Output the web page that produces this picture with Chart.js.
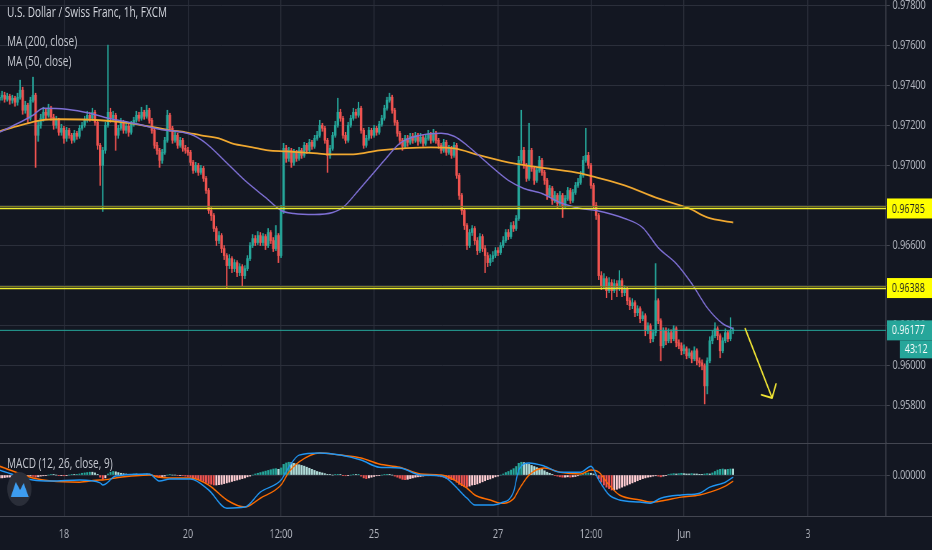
<!DOCTYPE html>
<html>
<head>
<meta charset="utf-8">
<script src="https://cdn.jsdelivr.net/npm/chart.js@4.4.1/dist/chart.umd.min.js"></script>
<style>
  html, body { margin: 0; padding: 0; background: #131722; }
  #wrap { position: relative; width: 932px; height: 550px; overflow: hidden; }
  #chart { display: block; }
  .lg { position: absolute; left: 7px; font: 14px "Open Sans", sans-serif; line-height: 18px; color: #c3c6ce; white-space: nowrap; transform: scaleX(0.717); transform-origin: 0 0; }
</style>
</head>
<body>
<div id="wrap">
  <canvas id="chart" width="1300" height="550" style="width:932px;height:550px"></canvas>
  <div class="lg" style="top:3px;color:#d1d4dc">U.S. Dollar / Swiss Franc, 1h, FXCM</div>
  <div class="lg" style="top:32px">MA (200, close)</div>
  <div class="lg" style="top:52px">MA (50, close)</div>
  <div class="lg" style="top:454px">MACD (12, 26, close, 9)</div>
</div>
<script>
Chart.defaults.font.family = '"Open Sans", sans-serif';
Chart.defaults.font.size = 12.5;
Chart.defaults.color = '#b2b5be';

// x values are hourly bar numbers, bar 0 = first visible candle (weekends skipped)
const timeLabels = ['18', '20', '12:00', '25', '27', '12:00', 'Jun', '3'];
const timeLabelBars = [25, 73, 109, 145, 193, 229, 265, 313];
const priceTicks = [0.958, 0.960, 0.962, 0.964, 0.966, 0.968, 0.970, 0.972, 0.974, 0.976, 0.978];

const opens = [
  0.97325,0.97340,0.97350,0.97330,0.97345,0.97325,0.97335,0.97315,0.97340,0.97375,
  0.97275,0.97300,0.97235,0.97325,0.97350,0.97150,0.97200,0.97235,0.97265,0.97250,
  0.97285,0.97240,0.97200,0.97225,0.97165,0.97185,0.97135,0.97175,0.97150,0.97125,
  0.97160,0.97145,0.97185,0.97200,0.97225,0.97250,0.97235,0.97265,0.97215,0.97100,
  0.97000,0.97075,0.97200,0.97265,0.97235,0.97250,0.97150,0.97185,0.97215,0.97175,
  0.97195,0.97165,0.97205,0.97225,0.97250,0.97235,0.97265,0.97245,0.97275,0.97225,
  0.97175,0.97100,0.97075,0.97025,0.97065,0.97125,0.97250,0.97185,0.97125,0.97150,
  0.97100,0.97125,0.97085,0.97075,0.97065,0.97015,0.96975,0.97000,0.96965,0.96985,
  0.96935,0.96875,0.96775,0.96750,0.96685,0.96625,0.96650,0.96585,0.96550,0.96500,
  0.96535,0.96485,0.96515,0.96465,0.96495,0.96450,0.96485,0.96535,0.96600,0.96635,
  0.96615,0.96650,0.96615,0.96645,0.96600,0.96665,0.96625,0.96585,0.96650,0.96550,
  0.96775,0.97085,0.97035,0.97075,0.97015,0.97065,0.97035,0.97075,0.97050,0.97100,
  0.97075,0.97115,0.97095,0.97135,0.97150,0.97200,0.97185,0.97125,0.97050,0.97085,
  0.97150,0.97200,0.97265,0.97235,0.97150,0.97125,0.97200,0.97235,0.97265,0.97250,
  0.97285,0.97175,0.97100,0.97135,0.97175,0.97150,0.97185,0.97165,0.97205,0.97235,
  0.97285,0.97325,0.97340,0.97275,0.97215,0.97160,0.97125,0.97095,0.97135,0.97115,
  0.97145,0.97125,0.97150,0.97120,0.97140,0.97110,0.97135,0.97155,0.97125,0.97160,
  0.97125,0.97100,0.97075,0.97115,0.97065,0.97085,0.97050,0.97100,0.96950,0.96850,
  0.96775,0.96700,0.96600,0.96665,0.96685,0.96625,0.96575,0.96645,0.96585,0.96550,
  0.96515,0.96535,0.96550,0.96575,0.96565,0.96600,0.96625,0.96665,0.96645,0.96700,
  0.96685,0.96735,0.97025,0.97075,0.97000,0.96935,0.97075,0.96985,0.96925,0.96975,
  0.97025,0.96965,0.96925,0.96850,0.96885,0.96825,0.96850,0.96810,0.96850,0.96800,
  0.96835,0.96875,0.96825,0.96865,0.96900,0.96915,0.96950,0.97025,0.97050,0.97000,
  0.96900,0.96800,0.96750,0.96450,0.96400,0.96435,0.96375,0.96415,0.96375,0.96410,
  0.96385,0.96425,0.96365,0.96385,0.96325,0.96300,0.96315,0.96265,0.96285,0.96235,
  0.96250,0.96175,0.96200,0.96135,0.96165,0.96325,0.96225,0.96100,0.96175,0.96125,
  0.96165,0.96135,0.96185,0.96115,0.96100,0.96075,0.96085,0.96050,0.96065,0.96035,
  0.96075,0.96025,0.96015,0.96000,0.95900,0.96025,0.96125,0.96150,0.96185,0.96150,
  0.96075,0.96125,0.96165,0.96135,0.96175
];
const highs = [
  0.97360,0.97370,0.97365,0.97360,0.97355,0.97350,0.97345,0.97360,0.97425,0.97390,
  0.97320,0.97310,0.97340,0.97440,0.97360,0.97220,0.97255,0.97290,0.97280,0.97305,
  0.97295,0.97255,0.97245,0.97235,0.97205,0.97195,0.97190,0.97185,0.97160,0.97175,
  0.97170,0.97200,0.97215,0.97245,0.97270,0.97265,0.97285,0.97275,0.97225,0.97110,
  0.97090,0.97215,0.97600,0.97285,0.97270,0.97260,0.97200,0.97235,0.97225,0.97210,
  0.97205,0.97220,0.97240,0.97270,0.97265,0.97290,0.97275,0.97300,0.97285,0.97235,
  0.97185,0.97115,0.97085,0.97080,0.97140,0.97275,0.97260,0.97195,0.97165,0.97160,
  0.97140,0.97135,0.97100,0.97090,0.97075,0.97025,0.97015,0.97010,0.97000,0.96995,
  0.96945,0.96885,0.96790,0.96760,0.96695,0.96670,0.96660,0.96600,0.96560,0.96555,
  0.96545,0.96530,0.96525,0.96510,0.96505,0.96500,0.96550,0.96615,0.96655,0.96650,
  0.96670,0.96665,0.96660,0.96655,0.96685,0.96675,0.96640,0.96700,0.96660,0.96800,
  0.97110,0.97100,0.97090,0.97085,0.97080,0.97075,0.97090,0.97085,0.97115,0.97110,
  0.97130,0.97125,0.97150,0.97170,0.97225,0.97210,0.97195,0.97135,0.97100,0.97165,
  0.97220,0.97335,0.97280,0.97245,0.97165,0.97215,0.97250,0.97285,0.97280,0.97315,
  0.97295,0.97185,0.97150,0.97190,0.97185,0.97200,0.97195,0.97220,0.97250,0.97300,
  0.97340,0.97360,0.97350,0.97285,0.97225,0.97170,0.97135,0.97150,0.97150,0.97160,
  0.97160,0.97165,0.97160,0.97160,0.97150,0.97155,0.97175,0.97165,0.97180,0.97170,
  0.97135,0.97110,0.97130,0.97125,0.97100,0.97095,0.97115,0.97110,0.96960,0.96860,
  0.96785,0.96710,0.96680,0.96700,0.96695,0.96640,0.96660,0.96655,0.96600,0.96565,
  0.96555,0.96570,0.96590,0.96590,0.96615,0.96645,0.96680,0.96680,0.96715,0.96720,
  0.96750,0.97045,0.97275,0.97090,0.97010,0.97210,0.97085,0.96995,0.96990,0.97045,
  0.97035,0.96975,0.96935,0.96900,0.96895,0.96870,0.96860,0.96870,0.96860,0.96850,
  0.96890,0.96885,0.96880,0.96915,0.96935,0.96970,0.97045,0.97185,0.97065,0.97010,
  0.96910,0.96815,0.96760,0.96470,0.96460,0.96445,0.96440,0.96430,0.96430,0.96425,
  0.96475,0.96435,0.96400,0.96395,0.96340,0.96335,0.96325,0.96300,0.96295,0.96270,
  0.96260,0.96215,0.96210,0.96180,0.96510,0.96335,0.96235,0.96190,0.96190,0.96185,
  0.96180,0.96200,0.96195,0.96130,0.96115,0.96105,0.96095,0.96085,0.96075,0.96095,
  0.96085,0.96040,0.96030,0.96010,0.96040,0.96145,0.96175,0.96215,0.96195,0.96160,
  0.96140,0.96185,0.96175,0.96240,0.96190
];
const lows = [
  0.97310,0.97325,0.97315,0.97320,0.97305,0.97310,0.97295,0.97300,0.97330,0.97255,
  0.97260,0.97210,0.97225,0.97315,0.96990,0.97120,0.97185,0.97220,0.97230,0.97240,
  0.97225,0.97180,0.97185,0.97150,0.97150,0.97110,0.97120,0.97135,0.97110,0.97115,
  0.97130,0.97135,0.97175,0.97190,0.97215,0.97220,0.97225,0.97200,0.97080,0.96900,
  0.96770,0.97060,0.97190,0.97215,0.97220,0.97075,0.97135,0.97175,0.97160,0.97160,
  0.97145,0.97155,0.97195,0.97215,0.97220,0.97225,0.97230,0.97235,0.97210,0.97160,
  0.97085,0.97055,0.96990,0.97010,0.97055,0.97115,0.97170,0.97110,0.97115,0.97085,
  0.97090,0.97070,0.97060,0.97050,0.97000,0.96960,0.96965,0.96950,0.96955,0.96920,
  0.96860,0.96760,0.96725,0.96670,0.96600,0.96610,0.96565,0.96530,0.96390,0.96485,
  0.96465,0.96470,0.96445,0.96450,0.96400,0.96435,0.96475,0.96525,0.96590,0.96600,
  0.96605,0.96600,0.96600,0.96580,0.96590,0.96610,0.96570,0.96575,0.96515,0.96540,
  0.96760,0.97015,0.97020,0.96990,0.97000,0.97020,0.97025,0.97035,0.97040,0.97060,
  0.97065,0.97080,0.97085,0.97125,0.97140,0.97170,0.97110,0.96965,0.97035,0.97075,
  0.97140,0.97190,0.97220,0.97135,0.97110,0.97115,0.97190,0.97225,0.97235,0.97240,
  0.97160,0.97085,0.97090,0.97125,0.97135,0.97140,0.97150,0.97155,0.97195,0.97225,
  0.97275,0.97315,0.97260,0.97200,0.97145,0.97105,0.97075,0.97085,0.97095,0.97105,
  0.97110,0.97115,0.97100,0.97110,0.97095,0.97100,0.97125,0.97110,0.97115,0.97110,
  0.97085,0.97060,0.97065,0.97050,0.97055,0.97035,0.97040,0.96935,0.96830,0.96755,
  0.96680,0.96580,0.96590,0.96650,0.96605,0.96555,0.96565,0.96570,0.96465,0.96495,
  0.96500,0.96520,0.96540,0.96550,0.96555,0.96590,0.96615,0.96630,0.96635,0.96670,
  0.96675,0.96725,0.97010,0.96985,0.96920,0.96925,0.96970,0.96905,0.96915,0.96965,
  0.96950,0.96905,0.96830,0.96840,0.96805,0.96815,0.96790,0.96800,0.96740,0.96790,
  0.96825,0.96810,0.96815,0.96855,0.96890,0.96905,0.96940,0.97015,0.96985,0.96885,
  0.96785,0.96730,0.96430,0.96380,0.96390,0.96340,0.96365,0.96330,0.96365,0.96345,
  0.96375,0.96345,0.96350,0.96305,0.96280,0.96285,0.96245,0.96250,0.96215,0.96225,
  0.96150,0.96160,0.96115,0.96120,0.96150,0.96210,0.96025,0.96090,0.96105,0.96115,
  0.96115,0.96125,0.96095,0.96085,0.96055,0.96060,0.96035,0.96040,0.96015,0.96025,
  0.96005,0.95995,0.95980,0.95810,0.95860,0.96015,0.96110,0.96140,0.96130,0.96040,
  0.96065,0.96115,0.96120,0.96125,0.96160
];
const closes = [
  0.97340,0.97350,0.97330,0.97345,0.97325,0.97335,0.97315,0.97340,0.97375,0.97275,
  0.97300,0.97235,0.97325,0.97350,0.97150,0.97200,0.97235,0.97265,0.97250,0.97285,
  0.97240,0.97200,0.97225,0.97165,0.97185,0.97135,0.97175,0.97150,0.97125,0.97160,
  0.97145,0.97185,0.97200,0.97225,0.97250,0.97235,0.97265,0.97215,0.97100,0.97000,
  0.97075,0.97200,0.97265,0.97235,0.97250,0.97150,0.97185,0.97215,0.97175,0.97195,
  0.97165,0.97205,0.97225,0.97250,0.97235,0.97265,0.97245,0.97275,0.97225,0.97175,
  0.97100,0.97075,0.97025,0.97065,0.97125,0.97250,0.97185,0.97125,0.97150,0.97100,
  0.97125,0.97085,0.97075,0.97065,0.97015,0.96975,0.97000,0.96965,0.96985,0.96935,
  0.96875,0.96775,0.96750,0.96685,0.96625,0.96650,0.96585,0.96550,0.96500,0.96535,
  0.96485,0.96515,0.96465,0.96495,0.96450,0.96485,0.96535,0.96600,0.96635,0.96615,
  0.96650,0.96615,0.96645,0.96600,0.96665,0.96625,0.96585,0.96650,0.96550,0.96775,
  0.97085,0.97035,0.97075,0.97015,0.97065,0.97035,0.97075,0.97050,0.97100,0.97075,
  0.97115,0.97095,0.97135,0.97150,0.97200,0.97185,0.97125,0.97050,0.97085,0.97150,
  0.97200,0.97265,0.97235,0.97150,0.97125,0.97200,0.97235,0.97265,0.97250,0.97285,
  0.97175,0.97100,0.97135,0.97175,0.97150,0.97185,0.97165,0.97205,0.97235,0.97285,
  0.97325,0.97340,0.97275,0.97215,0.97160,0.97125,0.97095,0.97135,0.97115,0.97145,
  0.97125,0.97150,0.97120,0.97140,0.97110,0.97135,0.97155,0.97125,0.97160,0.97125,
  0.97100,0.97075,0.97115,0.97065,0.97085,0.97050,0.97100,0.96950,0.96850,0.96775,
  0.96700,0.96600,0.96665,0.96685,0.96625,0.96575,0.96645,0.96585,0.96550,0.96515,
  0.96535,0.96550,0.96575,0.96565,0.96600,0.96625,0.96665,0.96645,0.96700,0.96685,
  0.96735,0.97025,0.97075,0.97000,0.96935,0.97075,0.96985,0.96925,0.96975,0.97025,
  0.96965,0.96925,0.96850,0.96885,0.96825,0.96850,0.96810,0.96850,0.96800,0.96835,
  0.96875,0.96825,0.96865,0.96900,0.96915,0.96950,0.97025,0.97050,0.97000,0.96900,
  0.96800,0.96750,0.96450,0.96400,0.96435,0.96375,0.96415,0.96375,0.96410,0.96385,
  0.96425,0.96365,0.96385,0.96325,0.96300,0.96315,0.96265,0.96285,0.96235,0.96250,
  0.96175,0.96200,0.96135,0.96165,0.96325,0.96225,0.96100,0.96175,0.96125,0.96165,
  0.96135,0.96185,0.96115,0.96100,0.96075,0.96085,0.96050,0.96065,0.96035,0.96075,
  0.96025,0.96015,0.96000,0.95900,0.96025,0.96125,0.96150,0.96185,0.96150,0.96075,
  0.96125,0.96165,0.96135,0.96175,0.96177
];

// moving averages, read at a few bars along each line
const ma200Bars = [0,8,16,23,39,51,66,72,78,85,90,98,104,111,123,128,137,147,167,176,186,199,212,225,231,242,255,267,274,284];
const ma200 = [0.97170,0.97200,0.97225,0.97230,0.97225,0.97210,0.97175,0.97165,0.97150,0.97135,
  0.97110,0.97090,0.97075,0.97070,0.97060,0.97055,0.97055,0.97075,0.97090,0.97085,
  0.97050,0.97010,0.96985,0.96960,0.96940,0.96900,0.96835,0.96785,0.96740,0.96715];
const ma50Bars = [0,8,13,17,26,35,42,46,52,62,74,80,87,95,103,109,114,122,129,133,139,144,149,155,163,171,176,181,189,197,203,210,217,225,231,242,249,255,262,268,274,280,284];
const ma50 = [0.97165,0.97215,0.97250,0.97285,0.97280,0.97260,0.97235,0.97225,0.97210,0.97180,
  0.97155,0.97110,0.97025,0.96925,0.96840,0.96775,0.96760,0.96755,0.96765,0.96790,
  0.96875,0.96950,0.97025,0.97110,0.97150,0.97160,0.97145,0.97100,0.97010,0.96925,
  0.96885,0.96860,0.96815,0.96785,0.96775,0.96735,0.96690,0.96590,0.96510,0.96410,
  0.96290,0.96210,0.96185];

// MACD pane
const macdBars = [0,13,20,31,39,40,45,58,62,66,74,81,88,95,101,109,112,116,124,132,140,147,155,163,171,181,184,190,194,199,201,205,211,217,225,229,232,236,240,248,252,256,264,271,275,281,284];
const macdLine = [0.00014,-0.00014,-0.00017,-0.00014,-0.00022,-0.00028,-0.00003,0.00003,-0.00017,-0.00011,
  -0.00011,-0.00042,-0.00093,-0.00090,-0.00048,-0.00014,0.00022,0.00056,0.00062,0.00056,
  0.00042,0.00022,0.00020,0.00000,-0.00003,-0.00065,-0.00084,-0.00084,-0.00079,-0.00048,
  0.00014,0.00034,0.00025,0.00008,0.00008,0.00025,-0.00014,-0.00056,-0.00070,-0.00076,
  -0.00079,-0.00065,-0.00056,-0.00051,-0.00034,-0.00020,-0.00006];
const signalLine = [0.00025,-0.00008,-0.00017,-0.00020,-0.00014,-0.00014,-0.00008,0.00000,-0.00006,-0.00008,
  -0.00008,-0.00028,-0.00070,-0.00090,-0.00065,-0.00028,0.00008,0.00037,0.00062,0.00056,
  0.00048,0.00031,0.00022,0.00003,0.00000,-0.00037,-0.00056,-0.00070,-0.00079,-0.00067,
  -0.00042,0.00000,0.00020,0.00008,0.00003,0.00014,0.00008,-0.00028,-0.00056,-0.00070,
  -0.00076,-0.00073,-0.00062,-0.00056,-0.00048,-0.00031,-0.00017];
const macdHist = [
  -0.00008,-0.00008,-0.00007,-0.00006,-0.00006,-0.00005,-0.00005,-0.00004,-0.00004,-0.00005,
  -0.00005,-0.00004,-0.00003,-0.00004,-0.00006,-0.00005,-0.00003,-0.00002,-0.00001,0,
  0.00001,0.00001,0,-0.00001,-0.00001,-0.00002,-0.00001,0,0.00001,0.00001,
  0.00002,0.00003,0.00005,0.00006,0.00007,0.00008,0.00008,0.00006,0.00002,-0.00006,
  -0.00012,-0.00008,0.00003,0.00008,0.00010,0.00009,0.00007,0.00005,0.00004,0.00003,
  0.00002,0.00002,0.00003,0.00003,0.00002,0.00002,0.00003,0.00003,0.00002,0,
  -0.00003,-0.00005,-0.00007,-0.00005,-0.00003,0,0.00001,0,0,-0.00001,
  -0.00001,-0.00002,-0.00003,-0.00004,-0.00005,-0.00008,-0.00010,-0.00013,-0.00015,-0.00018,
  -0.00021,-0.00024,-0.00026,-0.00028,-0.00028,-0.00027,-0.00026,-0.00024,-0.00022,-0.00020,
  -0.00018,-0.00016,-0.00014,-0.00012,-0.00010,-0.00008,-0.00005,-0.00003,0,0.00003,
  0.00005,0.00007,0.00009,0.00011,0.00013,0.00015,0.00017,0.00018,0.00016,0.00020,
  0.00030,0.00034,0.00036,0.00035,0.00033,0.00031,0.00029,0.00027,0.00025,0.00022,
  0.00019,0.00016,0.00013,0.00010,0.00008,0.00006,0.00004,0.00002,0.00001,0,
  0.00001,0.00002,0.00001,-0.00001,-0.00002,-0.00001,0,0.00001,0.00001,0.00002,
  -0.00003,-0.00008,-0.00010,-0.00008,-0.00006,-0.00004,-0.00002,-0.00001,0,0.00001,
  0.00002,0.00002,0,-0.00003,-0.00006,-0.00009,-0.00012,-0.00013,-0.00012,-0.00010,
  -0.00008,-0.00006,-0.00005,-0.00004,-0.00003,-0.00002,-0.00002,-0.00001,-0.00001,-0.00002,
  -0.00003,-0.00005,-0.00006,-0.00009,-0.00011,-0.00013,-0.00014,-0.00020,-0.00026,-0.00030,
  -0.00033,-0.00034,-0.00031,-0.00028,-0.00027,-0.00025,-0.00022,-0.00019,-0.00016,-0.00013,
  -0.00011,-0.00008,-0.00005,-0.00003,0,0.00003,0.00007,0.00010,0.00014,0.00018,
  0.00024,0.00033,0.00036,0.00035,0.00032,0.00030,0.00027,0.00024,0.00021,0.00019,
  0.00016,0.00012,0.00008,0.00005,0.00002,-0.00001,-0.00003,-0.00005,-0.00006,-0.00006,
  -0.00005,-0.00006,-0.00005,-0.00004,-0.00002,0,0.00003,0.00005,0.00006,0.00005,
  0.00003,0,-0.00010,-0.00020,-0.00028,-0.00034,-0.00038,-0.00042,-0.00042,-0.00040,
  -0.00037,-0.00034,-0.00031,-0.00028,-0.00025,-0.00022,-0.00019,-0.00016,-0.00013,-0.00010,
  -0.00008,-0.00006,-0.00005,-0.00003,-0.00002,-0.00003,-0.00005,-0.00003,-0.00001,0.00001,
  0.00003,0.00004,0.00003,0.00004,0.00005,0.00004,0.00003,0.00003,0.00004,0.00003,
  0.00003,0.00002,0.00002,0.00003,0.00004,0.00003,0.00006,0.00010,0.00014,0.00016,
  0.00017,0.00015,0.00016,0.00017,0.00017
];

// drawings
const levels = [0.96785, 0.96388];
const lastPrice = 0.96177;
const countdown = '43:12';
const arrowFrom = [288.7, 0.96185];
const arrowTo = [299.1, 0.95840];

const UP = '#26a69a';
const DOWN = '#ef5350';
const GRID = '#2b2f3b';
const EDGE = '#434651';

const candleColors = closes.map((c, i) => c >= opens[i] ? UP : DOWN);
const histColors = macdHist.map((v, i) => {
  const prev = i ? macdHist[i - 1] : v;
  if (v >= 0) return v > prev ? UP : '#b2dfdb';
  return v < prev ? DOWN : '#ffcdd2';
});

const overlay = {
  id: 'overlay',
  beforeDraw(chart) {
    const ctx = chart.ctx;
    ctx.save();
    ctx.fillStyle = '#131722';
    ctx.fillRect(0, 0, chart.width, chart.height);
    ctx.restore();
  },
  afterDatasetsDraw(chart) {
    const { ctx, chartArea: area, scales: { x, y } } = chart;
    ctx.save();
    // pane borders
    ctx.strokeStyle = EDGE;
    ctx.lineWidth = 1;
    [y.bottom, x.top].forEach(py => {
      ctx.beginPath();
      ctx.moveTo(0, Math.round(py) + 0.5);
      ctx.lineTo(chart.width, Math.round(py) + 0.5);
      ctx.stroke();
    });
    // last price line
    const lp = y.getPixelForValue(lastPrice);
    ctx.strokeStyle = UP;
    ctx.beginPath();
    ctx.moveTo(area.left, lp);
    ctx.lineTo(area.right, lp);
    ctx.stroke();
    // horizontal levels
    levels.forEach(v => {
      const py = Math.round(y.getPixelForValue(v));
      ctx.strokeStyle = '#7d7d24';
      ctx.lineWidth = 1;
      ctx.beginPath();
      ctx.moveTo(area.left, py - 1.5);
      ctx.lineTo(area.right, py - 1.5);
      ctx.stroke();
      ctx.strokeStyle = '#ecec2e';
      ctx.lineWidth = 1.6;
      ctx.beginPath();
      ctx.moveTo(area.left, py + 0.5);
      ctx.lineTo(area.right, py + 0.5);
      ctx.stroke();
    });
    // arrow
    const x0 = x.getPixelForValue(arrowFrom[0]), y0 = y.getPixelForValue(arrowFrom[1]);
    const x1 = x.getPixelForValue(arrowTo[0]), y1 = y.getPixelForValue(arrowTo[1]);
    const ang = Math.atan2(y0 - y1, x0 - x1);
    ctx.strokeStyle = '#f2e634';
    ctx.lineWidth = 2;
    ctx.lineCap = 'round';
    ctx.beginPath();
    ctx.moveTo(x0, y0);
    ctx.lineTo(x1, y1);
    [-0.87, 0.87].forEach(d => {
      ctx.moveTo(x1, y1);
      ctx.lineTo(x1 + 15 * Math.cos(ang + d), y1 + 15 * Math.sin(ang + d));
    });
    ctx.stroke();
    ctx.restore();
  },
  afterDraw(chart) {
    const { ctx, scales: { y } } = chart;
    const left = y.left + 1;
    ctx.save();
    ctx.font = '12.5px "Open Sans", sans-serif';
    ctx.textBaseline = 'middle';
    const badge = (text, cy, bg, fg, bx, h) => {
      ctx.fillStyle = bg;
      ctx.fillRect(bx, cy - h / 2, chart.width - bx, h);
      ctx.fillStyle = fg;
      ctx.fillText(text, bx + 7, cy + 0.5);
    };
    levels.forEach(v => badge(v.toFixed(5), y.getPixelForValue(v), '#ffff00', '#131722', left, 20));
    const lp = y.getPixelForValue(lastPrice);
    badge(lastPrice.toFixed(5), lp, UP, '#ffffff', left, 20);
    badge(countdown, lp + 19, UP, '#ffffff', left + 18, 18);
    // logo
    ctx.fillStyle = '#2a2e39';
    ctx.beginPath();
    ctx.arc(27, 489, 17, 0, Math.PI * 2);
    ctx.fill();
    ctx.fillStyle = '#3d9df0';
    ctx.beginPath();
    ctx.moveTo(15, 497);
    ctx.lineTo(22, 482);
    ctx.lineTo(28, 490);
    ctx.lineTo(33, 483);
    ctx.lineTo(40, 497);
    ctx.closePath();
    ctx.fill();
    ctx.restore();
  }
};

const fixWidth = s => { s.width = 64; s.paddingTop = 0; s.paddingBottom = 0; };

new Chart(document.getElementById('chart'), {
  type: 'bar',
  data: {
    datasets: [
      {
        type: 'line',
        label: 'MA 50',
        data: ma50Bars.map((b, i) => ({ x: b, y: ma50[i] })),
        borderColor: '#7e6fd4',
        borderWidth: 1.5,
        pointRadius: 0,
        cubicInterpolationMode: 'monotone',
        yAxisID: 'y',
        order: 0
      },
      {
        type: 'line',
        label: 'MA 200',
        data: ma200Bars.map((b, i) => ({ x: b, y: ma200[i] })),
        borderColor: '#f0a830',
        borderWidth: 1.8,
        pointRadius: 0,
        cubicInterpolationMode: 'monotone',
        yAxisID: 'y',
        order: 0
      },
      {
        label: 'Bodies',
        data: closes.map((c, i) => ({ x: i, y: [opens[i], c] })),
        backgroundColor: candleColors,
        barThickness: 2.8,
        minBarLength: 1,
        grouped: false,
        yAxisID: 'y',
        order: 1
      },
      {
        label: 'Wicks',
        data: highs.map((h, i) => ({ x: i, y: [lows[i], h] })),
        backgroundColor: candleColors,
        barThickness: 1.4,
        grouped: false,
        yAxisID: 'y',
        order: 2
      },
      {
        type: 'line',
        label: 'MACD',
        data: macdBars.map((b, i) => ({ x: b, y: macdLine[i] })),
        borderColor: '#2196f3',
        borderWidth: 1.5,
        pointRadius: 0,
        cubicInterpolationMode: 'monotone',
        yAxisID: 'y2',
        order: 0
      },
      {
        type: 'line',
        label: 'Signal',
        data: macdBars.map((b, i) => ({ x: b, y: signalLine[i] })),
        borderColor: '#ff6d00',
        borderWidth: 1.5,
        pointRadius: 0,
        cubicInterpolationMode: 'monotone',
        yAxisID: 'y2',
        order: 0
      },
      {
        label: 'Histogram',
        data: macdHist.map((v, i) => ({ x: i, y: v })),
        backgroundColor: histColors,
        barThickness: 2.2,
        grouped: false,
        yAxisID: 'y2',
        order: 3
      }
    ]
  },
  options: {
    responsive: false,
    devicePixelRatio: 1,
    animation: false,
    events: [],
    layout: { padding: 0 },
    plugins: {
      legend: { display: false },
      tooltip: { enabled: false }
    },
    scales: {
      x: {
        type: 'linear',
        min: 0.23,
        max: 343.24,
        offset: false,
        grid: { color: GRID, lineWidth: 1.4, drawTicks: false, offset: false },
        border: { display: false },
        afterBuildTicks: s => { s.ticks = timeLabelBars.map(v => ({ value: v })); },
        afterFit: s => { s.height = 34; s.paddingLeft = 0; s.paddingRight = 0; },
        ticks: {
          autoSkip: false,
          maxRotation: 0,
          padding: 11,
          callback: v => timeLabels[timeLabelBars.indexOf(v)]
        }
      },
      y: {
        type: 'linear',
        position: 'right',
        stack: 'panes',
        stackWeight: 443,
        min: 0.95615,
        max: 0.97825,
        grid: { color: GRID, tickColor: EDGE, tickLength: 5 },
        border: { color: EDGE, width: 1.4 },
        afterBuildTicks: s => { s.ticks = priceTicks.map(v => ({ value: v })); },
        afterFit: fixWidth,
        ticks: { autoSkip: false, padding: 4, callback: v => v.toFixed(5) }
      },
      y2: {
        type: 'linear',
        position: 'right',
        stack: 'panes',
        stackWeight: 73,
        min: -0.00115,
        max: 0.0009,
        grid: { color: GRID, tickColor: EDGE, tickLength: 5 },
        border: { color: EDGE, width: 1.4 },
        afterBuildTicks: s => { s.ticks = [{ value: 0 }]; },
        afterFit: fixWidth,
        ticks: { autoSkip: false, padding: 4, callback: v => v.toFixed(5) }
      }
    }
  },
  plugins: [overlay]
});
</script>
</body>
</html>
